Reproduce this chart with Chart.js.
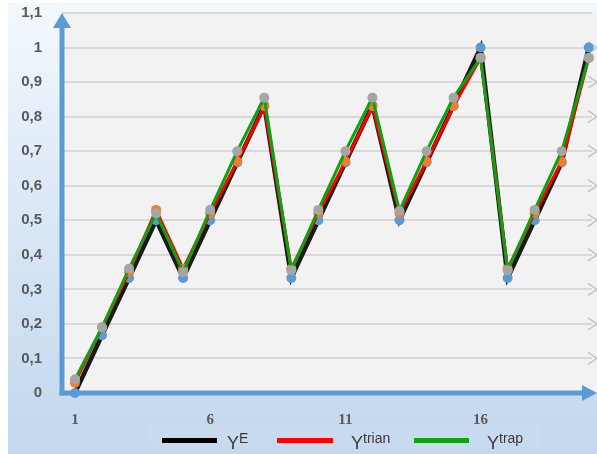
<!DOCTYPE html>
<html>
<head>
<meta charset="utf-8">
<script src="https://cdn.jsdelivr.net/npm/chart.js@4/dist/chart.umd.min.js"></script>
<style>
  html, body { margin: 0; padding: 0; background: #ffffff; }
  #wrap { position: relative; width: 597px; height: 454px; overflow: hidden; background: #ffffff; }
  #bg { position: absolute; left: 8px; top: 3px; width: 589px; height: 451px;
        background: linear-gradient(to bottom, #f3f8fd 0%, #dbe8f6 45%, #c3d7ee 100%); }
  #legbox { position: absolute; left: 147px; top: 424px; width: 395px; height: 30px; background: rgba(255,255,255,0.06); }
  canvas { position: absolute; left: 0; top: 0; }
  .leg { position: absolute; top: 0; left: 0; font-family: "Liberation Sans", "DejaVu Sans", sans-serif; color: #3a3a3a; }
  .ln { position: absolute; height: 5px; top: 438px; }
  .tx { position: absolute; top: 428px; font-size: 18px; line-height: 20px; white-space: nowrap; }
  .tx sup { font-size: 14px; vertical-align: 6px; }
</style>
</head>
<body>
<div id="wrap">
  <div id="bg"></div>
  <div id="legbox"></div>
  <canvas id="c" width="597" height="454"></canvas>
  <div class="leg">
    <div class="ln" style="left:162px;width:55px;background:#000000"></div>
    <div class="tx" style="left:227px">Y<sup>E</sup></div>
    <div class="ln" style="left:277px;width:56px;background:#ff0000"></div>
    <div class="tx" style="left:351px">Y<sup>trian</sup></div>
    <div class="ln" style="left:414px;width:55px;background:#11a011"></div>
    <div class="tx" style="left:487px">Y<sup>trap</sup></div>
  </div>
</div>
<script>
const xValues = [1,2,3,4,5,6,7,8,9,10,11,12,13,14,15,16,17,18,19,20];
const xTickValues = [1, 6, 11, 16];
const yE     = [0, 0.167, 0.333, 0.5, 0.333, 0.5, 0.667, 0.833, 0.333, 0.5, 0.667, 0.833, 0.5, 0.667, 0.833, 1, 0.333, 0.5, 0.667, 1];
const yTrian = [0.03, 0.19, 0.35, 0.53, 0.36, 0.52, 0.67, 0.83, 0.36, 0.52, 0.67, 0.83, 0.52, 0.67, 0.83, 0.97, 0.36, 0.52, 0.67, 0.97];
const yTrap  = [0.04, 0.19, 0.36, 0.52, 0.35, 0.53, 0.70, 0.855, 0.355, 0.53, 0.70, 0.855, 0.527, 0.70, 0.855, 0.97, 0.355, 0.53, 0.70, 0.97];

const toPts = arr => arr.map((v, i) => ({x: xValues[i], y: v}));

const AXIS_BLUE = '#5b9bd5';

const deco = {
  id: 'deco',
  beforeDraw(chart) {
    const {ctx, chartArea: a} = chart;
    ctx.save();
    ctx.fillStyle = '#f2f2f2';
    ctx.fillRect(a.left, a.top, 597 - a.left, a.bottom - a.top);
    ctx.restore();
  },
  beforeDatasetsDraw(chart) {
    const {ctx, chartArea: a, scales} = chart;
    ctx.save();
    ctx.strokeStyle = '#c4c4c4';
    ctx.lineWidth = 1.5;
    scales.y.ticks.forEach(t => {
      if (t.value === 0 || t.value > 1.05) return;
      const y = scales.y.getPixelForValue(t.value);
      ctx.beginPath();
      ctx.moveTo(588, y - 6);
      ctx.lineTo(597, y);
      ctx.lineTo(588, y + 6);
      ctx.stroke();
    });
    ctx.strokeStyle = AXIS_BLUE;
    ctx.fillStyle = AXIS_BLUE;
    ctx.lineWidth = 5;
    const x0 = a.left, y0 = a.bottom;
    ctx.beginPath();
    ctx.moveTo(x0, y0 + 2.5);
    ctx.lineTo(x0, a.top + 12);
    ctx.stroke();
    ctx.beginPath();
    ctx.moveTo(x0 - 9, a.top + 15);
    ctx.lineTo(x0, a.top);
    ctx.lineTo(x0 + 9, a.top + 15);
    ctx.closePath();
    ctx.fill();
    ctx.beginPath();
    ctx.moveTo(x0 - 2.5, y0);
    ctx.lineTo(585, y0);
    ctx.stroke();
    ctx.beginPath();
    ctx.moveTo(582, y0 - 8);
    ctx.lineTo(597, y0);
    ctx.lineTo(582, y0 + 8);
    ctx.closePath();
    ctx.fill();
    ctx.restore();
  }
};

new Chart(document.getElementById('c'), {
  type: 'line',
  data: {
    datasets: [
      { label: 'YE', data: toPts(yE), borderColor: '#1a1a1a', borderWidth: 4.5,
        pointBackgroundColor: '#5b9bd5', pointBorderWidth: 0, pointRadius: 5, clip: false, order: 3 },
      { label: 'Ytrian', data: toPts(yTrian), borderColor: '#ff0000', borderWidth: 3,
        pointBackgroundColor: '#ed7d31', pointBorderWidth: 0, pointRadius: 5, clip: false, order: 2 },
      { label: 'Ytrap', data: toPts(yTrap), borderColor: '#11a011', borderWidth: 3,
        pointBackgroundColor: '#a5a5a5', pointBorderWidth: 0, pointRadius: 5, clip: false, order: 1 }
    ]
  },
  options: {
    responsive: false,
    animation: false,
    devicePixelRatio: 1,
    layout: { padding: { top: 13, left: 0, right: 0, bottom: 0 } },
    elements: { line: { tension: 0 } },
    plugins: { legend: { display: false }, tooltip: { enabled: false } },
    scales: {
      x: {
        type: 'linear',
        min: 0.52, max: 20.12,
        afterBuildTicks(scale) { scale.ticks = xTickValues.map(v => ({value: v})); },
        afterFit(scale) { scale.height = 61; scale.paddingLeft = 0; scale.paddingRight = 0; },
        grid: { display: false, drawTicks: false },
        border: { display: false },
        ticks: { padding: 18, color: '#595959', maxRotation: 0, autoSkip: false,
                 font: { family: 'Liberation Serif', size: 15, weight: 'bold' },
                 callback: v => String(v) }
      },
      y: {
        min: 0, max: 1.1,
        afterFit(scale) { scale.width = 62; scale.paddingTop = 0; scale.paddingBottom = 0; },
        grid: { color: '#d9d9d9', lineWidth: 2, drawTicks: false },
        border: { display: false },
        ticks: { stepSize: 0.1, padding: 20, color: '#595959',
                 font: { family: 'Liberation Sans', size: 15, weight: 'bold' },
                 callback: v => String(Math.round(v * 10) / 10).replace('.', ',') }
      }
    }
  },
  plugins: [deco]
});
</script>
</body>
</html>
